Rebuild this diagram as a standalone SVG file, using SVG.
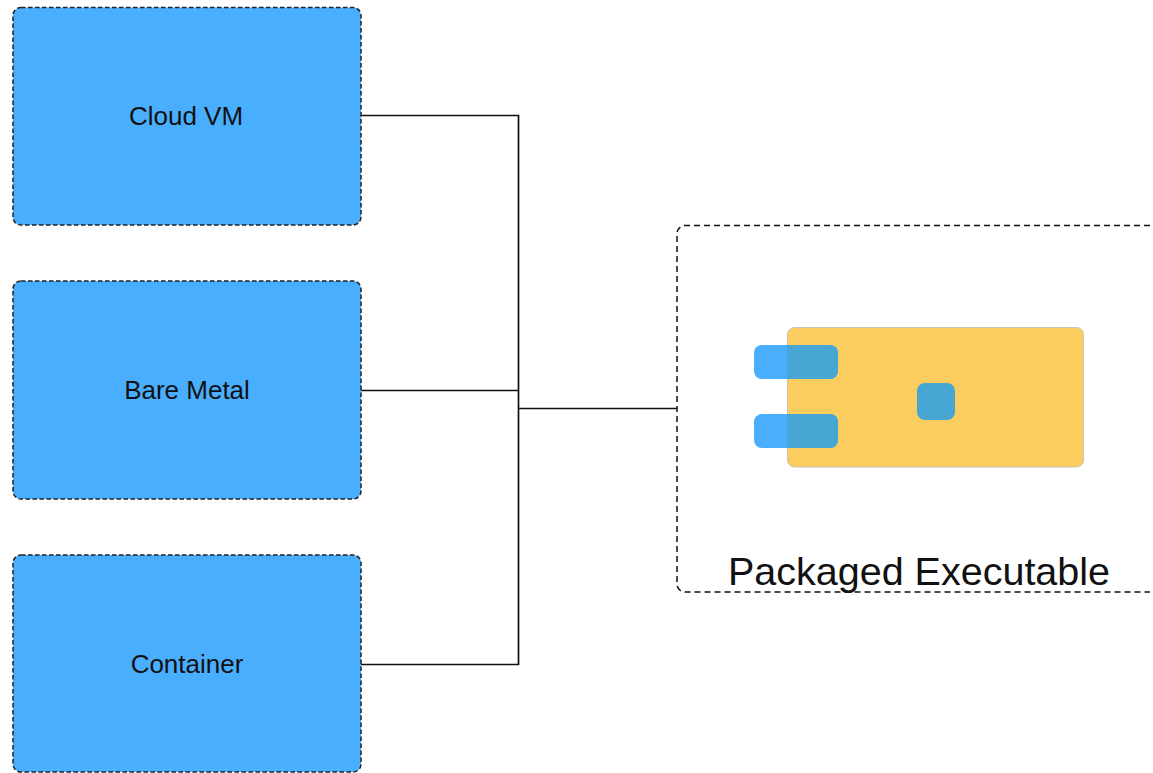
<svg xmlns="http://www.w3.org/2000/svg" width="1153" height="773" viewBox="0 0 1153 773">
<style>
.box{fill:#4aaeff;stroke:#222;stroke-width:1.5;stroke-dasharray:4.5 2.5}
.lbl{font-family:"Liberation Sans",Arial,sans-serif;font-size:26px;fill:#111;text-anchor:middle}
.conn{fill:none;stroke:#111;stroke-width:1.7}
.port{fill:#4aaeff}
.over{fill:#47a6d3}
</style>
<rect width="1153" height="773" fill="#fff"/>
<g id="connectors">
<path class="conn" d="M361 115.500H518.500V664.500H361M361 390.500H518.500M518.500 408.500H677"/>
</g>
<g id="cloud-vm"><rect class="box" x="13" y="7.500" width="348" height="217.500" rx="8"/><text class="lbl" x="186" y="125">Cloud VM</text></g>
<g id="bare-metal"><rect class="box" x="13" y="281" width="348" height="218" rx="8"/><text class="lbl" x="187" y="399">Bare Metal</text></g>
<g id="container"><rect class="box" x="13" y="555" width="348" height="217" rx="8"/><text class="lbl" x="187" y="673">Container</text></g>
<g id="packaged-executable">
<path d="M1150 225.500H685a8 8 0 0 0-8 8V584a8 8 0 0 0 8 8H1150" fill="none" stroke="#111" stroke-width="1.5" stroke-dasharray="6 4"/>
<rect x="787.500" y="327.500" width="296" height="139.500" rx="7" fill="#fbcd5f" stroke="#c9c4b4" stroke-width="1"/>
<rect class="port" x="754" y="345" width="84" height="34" rx="8"/>
<rect class="port" x="754" y="414" width="84" height="34" rx="8"/>
<path class="over" d="M787 345H830a8 8 0 0 1 8 8V371a8 8 0 0 1-8 8H787Z"/>
<path class="over" d="M787 414H830a8 8 0 0 1 8 8V440a8 8 0 0 1-8 8H787Z"/>
<rect class="over" x="917" y="383" width="38" height="37" rx="8"/>
<text x="919" y="585" font-family="Liberation Sans,Arial,sans-serif" font-size="39.500" fill="#111" text-anchor="middle">Packaged Executable</text>
</g>
</svg>
